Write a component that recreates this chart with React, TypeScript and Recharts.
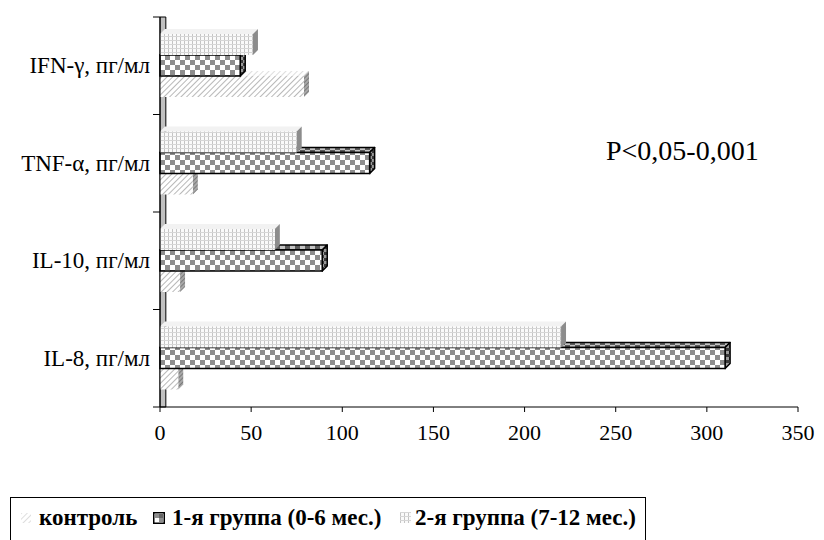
import React from 'react';
import { BarChart, Bar, XAxis, YAxis, ReferenceArea } from 'recharts';

const categories = ['IFN-γ, пг/мл', 'TNF-α, пг/мл', 'IL-10, пг/мл', 'IL-8, пг/мл'];
const controlValues = [79, 18, 11, 10];
const group1Values = [44, 115, 89, 310];
const group2Values = [51, 75, 63, 220];
const xTicks = [0, 50, 100, 150, 200, 250, 300, 350];
const seriesNames = ['контроль', '1-я группа (0-6 мес.)', '2-я группа (7-12 мес.)'];
const note = 'P<0,05-0,001';

const data = categories.map((name, i) => ({
    name,
    control: controlValues[i],
    group1: group1Values[i],
    group2: group2Values[i],
}));

const FONT = '"Liberation Serif"';
const DEPTH = 5;

// face fills per series: front, top, side, outline
const looks: Record<string, { front: string; top: string; side: string; stroke: string; sw: number }> = {
    control: { front: 'url(#hatch)', top: 'url(#hatchLight)', side: 'url(#hatchDark)', stroke: 'none', sw: 0 },
    group1: { front: 'url(#checker)', top: 'url(#checkerDark)', side: 'url(#checkerSide)', stroke: '#000', sw: 1.5 },
    group2: { front: 'url(#grid)', top: '#f2f2f2', side: '#8c8c8c', stroke: 'none', sw: 0 },
};

function Bar3D(props: any) {
    const { x, y, width, height, kind, shift } = props;
    if (width == null || width <= 0) return null;
    const lk = looks[kind];
    const yy = y + shift * height;
    const d = DEPTH;
    const top = `${x},${yy} ${x + d},${yy - d} ${x + width + d},${yy - d} ${x + width},${yy}`;
    const side = `${x + width},${yy} ${x + width + d},${yy - d} ${x + width + d},${yy + height - d} ${x + width},${yy + height}`;
    return (
        <g>
            <polygon points={top} fill={lk.top} stroke={lk.stroke} strokeWidth={lk.sw} strokeLinejoin="round" />
            <polygon points={side} fill={lk.side} stroke={lk.stroke} strokeWidth={lk.sw} strokeLinejoin="round" />
            <rect x={x} y={yy} width={width} height={height} fill={lk.front} stroke={lk.stroke} strokeWidth={lk.sw} />
        </g>
    );
}

function CatTick(props: any) {
    const { x, y, payload, index, visibleTicksCount } = props;
    const half = payload && payload.offset ? payload.offset : 48.6;
    const ax = x + 10;
    return (
        <g>
            <text x={x} y={y} textAnchor="end" dominantBaseline="central" fontSize={23} fontFamily={FONT} fill="#000">
                {payload.value}
            </text>
            <line x1={ax - 7} x2={ax} y1={y - half} y2={y - half} stroke="#000" />
            {index === visibleTicksCount - 1 && <line x1={ax - 7} x2={ax} y1={y + half} y2={y + half} stroke="#000" />}
        </g>
    );
}

function Patterns() {
    return (
        <svg width={0} height={0} style={{ position: 'absolute' }}>
            <defs>
                <pattern id="hatch" width="4" height="4" patternUnits="userSpaceOnUse" patternTransform="rotate(45)">
                    <rect width="4" height="4" fill="#fff" />
                    <line x1="0" y1="0" x2="0" y2="4" stroke="#9a9a9a" strokeWidth="1.4" />
                </pattern>
                <pattern id="hatchLight" width="4" height="4" patternUnits="userSpaceOnUse" patternTransform="rotate(45)">
                    <rect width="4" height="4" fill="#fff" />
                    <line x1="0" y1="0" x2="0" y2="4" stroke="#c8c8c8" strokeWidth="1.2" />
                </pattern>
                <pattern id="hatchDark" width="3" height="3" patternUnits="userSpaceOnUse" patternTransform="rotate(45)">
                    <rect width="3" height="3" fill="#a8a8a8" />
                    <line x1="0" y1="0" x2="0" y2="3" stroke="#5a5a5a" strokeWidth="1.2" />
                </pattern>
                <pattern id="checker" width="10" height="10" patternUnits="userSpaceOnUse">
                    <rect width="10" height="10" fill="#fff" />
                    <rect width="5" height="5" fill="#8e8e8e" />
                    <rect x="5" y="5" width="5" height="5" fill="#8e8e8e" />
                </pattern>
                <pattern id="checkerDark" width="10" height="10" patternUnits="userSpaceOnUse">
                    <rect width="10" height="10" fill="#c4c4c4" />
                    <rect width="5" height="5" fill="#5c5c5c" />
                    <rect x="5" y="5" width="5" height="5" fill="#5c5c5c" />
                </pattern>
                <pattern id="checkerSide" width="6" height="6" patternUnits="userSpaceOnUse">
                    <rect width="6" height="6" fill="#9a9a9a" />
                    <rect width="3" height="3" fill="#3a3a3a" />
                    <rect x="3" y="3" width="3" height="3" fill="#3a3a3a" />
                </pattern>
                <pattern id="grid" width="4" height="4" patternUnits="userSpaceOnUse">
                    <rect width="4" height="4" fill="#fafafa" />
                    <line x1="0.5" y1="0" x2="0.5" y2="4" stroke="#c4c4c4" strokeWidth="1" />
                    <line x1="0" y1="0.5" x2="4" y2="0.5" stroke="#d6d6d6" strokeWidth="1" />
                </pattern>
            </defs>
        </svg>
    );
}

function LegendIcon({ kind }: { kind: string }) {
    if (kind === 'control') {
        return (
            <svg width={10} height={10} style={{ position: 'absolute', left: 10, top: 9 }}>
                <rect width={10} height={10} fill="url(#hatchLight)" />
            </svg>
        );
    }
    if (kind === 'group1') {
        return (
            <svg width={12} height={12} style={{ position: 'absolute', left: 142, top: 8 }}>
                <rect x={0.75} y={0.75} width={10.5} height={10.5} fill="#fff" stroke="#000" strokeWidth={1.5} />
                <rect x={2} y={2} width={4} height={4} fill="#8e8e8e" />
                <rect x={6} y={6} width={4} height={4} fill="#8e8e8e" />
                <rect x={6} y={2} width={4} height={4} fill="#666" />
            </svg>
        );
    }
    return (
        <svg width={11} height={11} style={{ position: 'absolute', left: 389, top: 8 }}>
            <rect width={11} height={11} fill="url(#grid)" />
        </svg>
    );
}

export default function App() {
    const textStyle: React.CSSProperties = {
        position: 'absolute',
        top: 0,
        fontFamily: FONT,
        fontWeight: 'bold',
        fontSize: 23,
        lineHeight: '28px',
        whiteSpace: 'nowrap',
        color: '#000',
    };
    return (
        <div style={{ position: 'absolute', left: 0, top: 0, width: 824, height: 540, overflow: 'hidden', background: '#fff' }}>
            <Patterns />
            <BarChart
                width={824}
                height={470}
                data={data}
                layout="vertical"
                margin={{ top: 17, right: 26, left: 0, bottom: 0 }}
                barSize={21}
                barGap={0}
            >
                <XAxis
                    type="number"
                    domain={[0, 350]}
                    ticks={xTicks}
                    height={63}
                    axisLine={{ stroke: '#000' }}
                    tickLine={{ stroke: '#000' }}
                    tickSize={5}
                    tickMargin={12}
                    tick={{ fontSize: 22, fill: '#000', fontFamily: FONT }}
                />
                <YAxis
                    type="category"
                    dataKey="name"
                    width={160}
                    axisLine={{ stroke: '#000' }}
                    tickLine={false}
                    tickSize={0}
                    tickMargin={10}
                    tick={<CatTick />}
                    interval={0}
                />
                <ReferenceArea x1={0} x2={3.2} fill="#c0c0c0" fillOpacity={1} stroke="#000" strokeWidth={1} />
                {/* drawn back to front; shift puts control at the bottom slot and group2 at the top */}
                <Bar dataKey="control" name={seriesNames[0]} isAnimationActive={false}
                    shape={(p: any) => <Bar3D {...p} kind="control" shift={2} />} />
                <Bar dataKey="group1" name={seriesNames[1]} isAnimationActive={false}
                    shape={(p: any) => <Bar3D {...p} kind="group1" shift={0} />} />
                <Bar dataKey="group2" name={seriesNames[2]} isAnimationActive={false}
                    shape={(p: any) => <Bar3D {...p} kind="group2" shift={-2} />} />
            </BarChart>
            <div style={{ position: 'absolute', left: 606, top: 137, fontFamily: FONT, fontSize: 28, lineHeight: '28px', color: '#000' }}>
                {note}
            </div>
            <div style={{ position: 'absolute', left: 10, top: 497, width: 636, height: 60, border: '1px solid #000', boxSizing: 'border-box' }}>
                <div style={{ position: 'absolute', left: 0, top: 6, width: 630, height: 28 }}>
                    <LegendIcon kind="control" />
                    <span style={{ ...textStyle, left: 28 }}>{seriesNames[0]}</span>
                    <LegendIcon kind="group1" />
                    <span style={{ ...textStyle, left: 161 }}>{seriesNames[1]}</span>
                    <LegendIcon kind="group2" />
                    <span style={{ ...textStyle, left: 404 }}>{seriesNames[2]}</span>
                </div>
            </div>
        </div>
    );
}
